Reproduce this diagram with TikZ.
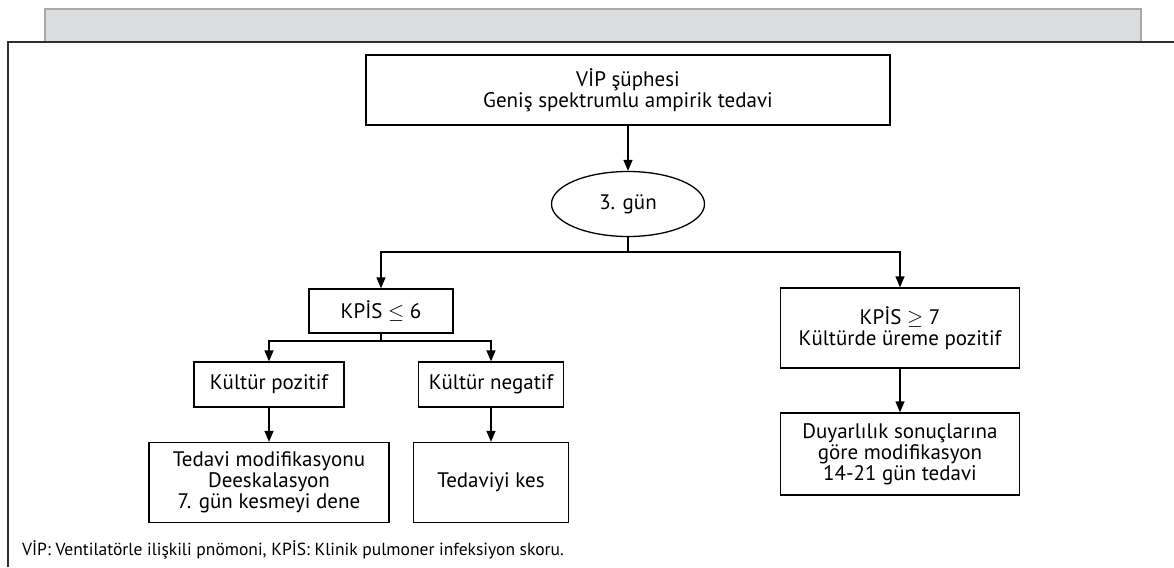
\documentclass[tikz,border=0pt]{standalone}
\usepackage{fontspec}
\setmainfont{PT Sans}
\usetikzlibrary{arrows.meta,shapes.geometric}
\definecolor{band}{HTML}{DCDDDF}
\definecolor{bandline}{HTML}{A9A9A9}
\definecolor{frame}{HTML}{2E2E2E}
\tikzset{
  flowbox/.style={draw=black, line width=1.3pt, align=center, inner sep=0pt,
    font=\fontsize{21}{21}\selectfont},
  arr/.style={line width=1.3pt, -{Triangle[length=11pt,width=9pt]}},
  plain/.style={line width=1.3pt}
}
\begin{document}
\begin{tikzpicture}[x=1pt,y=-1pt]
\useasboundingbox (0,0) rectangle (1174,567);
% header band and frame
\filldraw[fill=band, draw=bandline, line width=1.5pt] (45,42) -- (45,9) -- (1141,9) -- (1141,42);
\draw[draw=frame, line width=2pt] (8,567) -- (8,42) -- (1174,42);
% nodes
\node[flowbox, minimum width=524pt, minimum height=70pt] (top) at (628,90)
  {VİP şüphesi\\Geniş spektrumlu ampirik tedavi};
\node[flowbox, ellipse, minimum width=153pt, minimum height=65pt] (ell) at (628,204) {3. gün};
\node[flowbox, minimum width=144pt, minimum height=44pt] (k6) at (381,311) {KPİS $\leq$ 6};
\node[flowbox, minimum width=239pt, minimum height=80pt] (k7) at (900,328)
  {KPİS $\geq$ 7\\Kültürde üreme pozitif};
\node[flowbox, minimum width=150pt, minimum height=45pt] (kp) at (269,384.5) {Kültür pozitif};
\node[flowbox, minimum width=145pt, minimum height=45pt] (kn) at (491,384.5) {Kültür negatif};
\node[flowbox, minimum width=240pt, minimum height=80pt] (tm) at (269,482.5)
  {Tedavi modifikasyonu\\Deeskalasyon\\7. gün kesmeyi dene};
\node[flowbox, minimum width=155pt, minimum height=80pt] (tk) at (491,482.5) {Tedaviyi kes};
\node[flowbox, minimum width=239pt, minimum height=82pt] (dr) at (900,454)
  {Duyarlılık sonuçlarına\\göre modifikasyon\\14-21 gün tedavi};
\node[anchor=west, inner sep=0pt, font=\fontsize{17.5}{19}\selectfont] (note) at (22,550)
  {VİP: Ventilatörle ilişkili pnömoni, KPİS: Klinik pulmoner infeksiyon skoru.};
% connectors
\coordinate (j1) at (628,252);
\coordinate (j2) at (381,341);
\draw[arr] (top) -- (ell);
\draw[plain] (ell.south) -- (j1);
\draw[arr] (j1) -| (k6.north);
\draw[arr] (j1) -| (k7.north);
\draw[plain] (k6.south) -- (j2);
\draw[arr] (j2) -| (kp.north);
\draw[arr] (j2) -| (kn.north);
\draw[arr] (kp) -- (tm);
\draw[arr] (kn) -- (tk);
\draw[arr] (k7) -- (dr);
\end{tikzpicture}
\end{document}
